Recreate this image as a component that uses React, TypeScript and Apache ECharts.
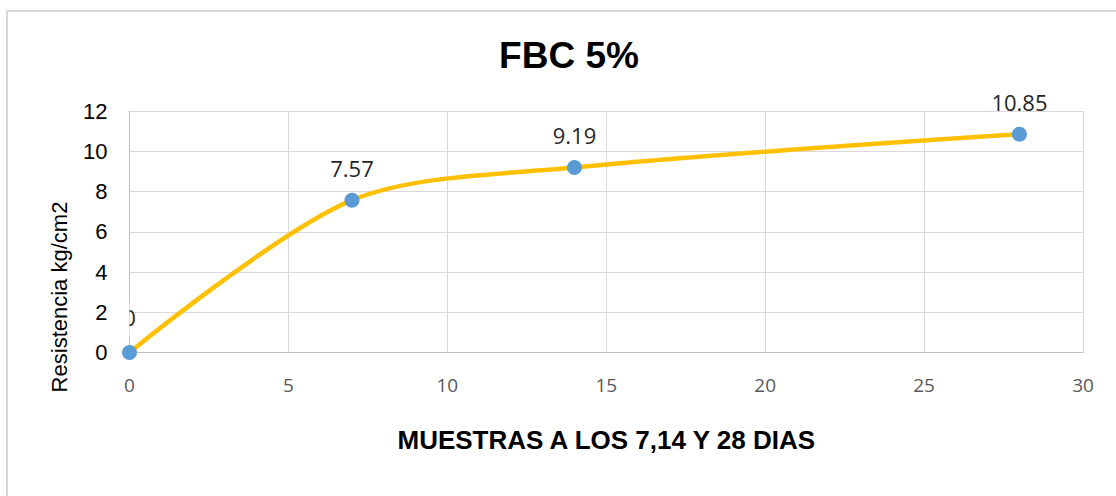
import React, { useEffect, useRef } from "react";
import * as echarts from "echarts";

const TITLE = "FBC 5%";
const X_NAME = "MUESTRAS A LOS 7,14 Y 28 DIAS";
const Y_NAME = "Resistencia kg/cm2";
const DAYS = [0, 7, 14, 28];
const RESISTANCE = [0, 7.57, 9.19, 10.85];
const LABELS = ["0", "7.57", "9.19", "10.85"];

export default function App() {
  const ref = useRef<HTMLDivElement>(null);
  useEffect(() => {
    if (!ref.current) return;
    const chart = echarts.init(ref.current, null, { renderer: "svg" });
    const data = DAYS.map((d, i) => ({
      value: [d, RESISTANCE[i]],
      label: i === 0 ? { distance: 17 } : undefined,
    }));
    chart.setOption({
      animation: false,
      backgroundColor: "#ffffff",
      title: {
        text: TITLE,
        left: 564,
        top: 32,
        textAlign: "center",
        textStyle: {
          fontFamily: "Liberation Sans",
          fontWeight: "bold",
          fontSize: 37,
          color: "#000000",
        },
      },
      grid: { left: 129.5, top: 111, width: 953.5, height: 241.5, containLabel: false },
      xAxis: {
        type: "value",
        min: 0,
        max: 30,
        interval: 5,
        name: X_NAME,
        nameLocation: "middle",
        nameGap: 74,
        nameTextStyle: {
          fontFamily: "Liberation Sans",
          fontWeight: "bold",
          fontSize: 26,
          color: "#000000",
        },
        axisLine: { show: true, lineStyle: { color: "#BFBFBF", width: 1 } },
        axisTick: { show: false },
        axisLabel: {
          margin: 23,
          fontFamily: "Open Sans",
          fontSize: 19,
          color: "#595959",
        },
        splitLine: { show: true, lineStyle: { color: "#D9D9D9", width: 1 } },
      },
      yAxis: {
        type: "value",
        min: 0,
        max: 12,
        interval: 2,
        axisLine: { show: true, lineStyle: { color: "#BFBFBF", width: 1 } },
        axisTick: { show: false },
        axisLabel: {
          margin: 22,
          fontFamily: "Liberation Sans",
          fontSize: 22,
          color: "#000000",
        },
        splitLine: { show: true, lineStyle: { color: "#D9D9D9", width: 1 } },
      },
      series: [
        {
          type: "line",
          data,
          smooth: 0.3,
          symbol: "circle",
          symbolSize: 15,
          lineStyle: { color: "#FFC000", width: 4.5 },
          itemStyle: { color: "#5B9BD5" },
          label: {
            show: true,
            position: "top",
            distance: 14,
            fontFamily: "Open Sans",
            fontSize: 22,
            color: "#262626",
            formatter: (p: any) => LABELS[p.dataIndex],
          },
          z: 3,
        },
      ],
    });
    const p0 = chart.convertToPixel({ gridIndex: 0 }, [DAYS[0], RESISTANCE[0]]) as number[];
    chart.setOption({
      graphic: [
        {
          type: "rect",
          z: -1,
          silent: true,
          shape: { x: 7, y: 11, width: 1300, height: 700 },
          style: { fill: "none", stroke: "#D9D9D9", lineWidth: 2 },
        },
        {
          type: "rect",
          z: 100,
          silent: true,
          shape: { x: p0[0] - 20, y: p0[1] - 50, width: 20, height: 34 },
          style: { fill: "#ffffff" },
        },
        {
          type: "text",
          x: 59,
          y: 297,
          rotation: Math.PI / 2,
          silent: true,
          style: {
            text: Y_NAME,
            font: "22px 'Liberation Sans'",
            fill: "#000000",
            align: "center",
            verticalAlign: "middle",
          },
        },
      ],
    });
    return () => chart.dispose();
  }, []);
  return (
    <div
      ref={ref}
      style={{ position: "fixed", left: 0, top: 0, width: 1116, height: 496 }}
    />
  );
}
